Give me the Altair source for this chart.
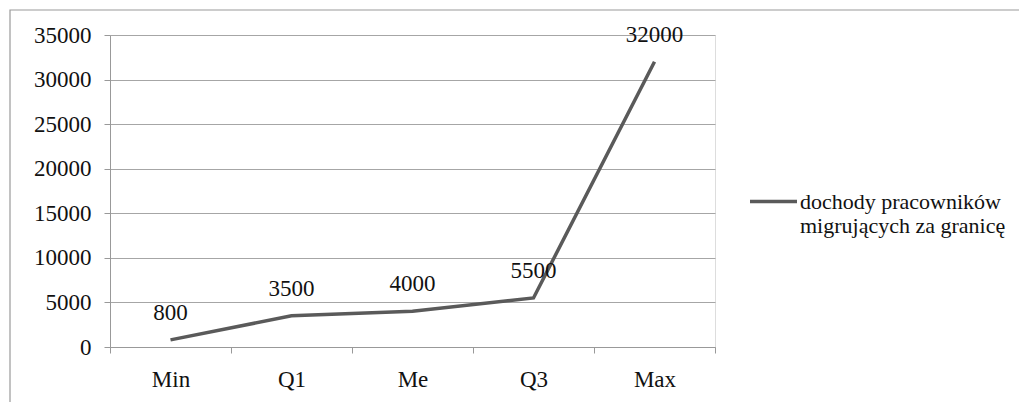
import altair as alt
import pandas as pd

categories = ["Min", "Q1", "Me", "Q3", "Max"]
values = [800, 3500, 4000, 5500, 32000]
series_name = "dochody pracowników|migrujących za granicę"

df = pd.DataFrame({"cat": categories, "val": values, "series": [series_name] * 5})

FONT = "Liberation Serif"
FS = 23

x = alt.X("cat:N", sort=categories, title=None,
          scale=alt.Scale(paddingInner=0, paddingOuter=0),
          axis=alt.Axis(labelAngle=0, labelFontSize=FS, labelFont=FONT, labelColor="#111",
                        labelPadding=15, domainColor="#999", tickColor="#999", tickSize=6,
                        tickBand="extent", grid=False))
y = alt.Y("val:Q", title=None,
          scale=alt.Scale(domain=[0, 35000], nice=False),
          axis=alt.Axis(values=[0, 5000, 10000, 15000, 20000, 25000, 30000, 35000],
                        format="d", labelFontSize=FS, labelFont=FONT, labelColor="#111",
                        labelPadding=13, domainColor="#999", tickColor="#999", tickSize=6,
                        gridColor="#a6a6a6", gridWidth=1.2))

border = alt.Chart(pd.DataFrame({"a": [0]})).mark_rect(
    fill=None, stroke="#9a9a9a", strokeWidth=1.2
).encode(x=alt.value(-100), x2=alt.value(1000), y=alt.value(-25), y2=alt.value(420))

line = alt.Chart(df).mark_line(strokeWidth=3.5).encode(
    x=x, y=y,
    color=alt.Color("series:N", scale=alt.Scale(range=["#5a5a5a"]),
                    legend=alt.Legend(title=None, orient="none", legendX=638, legendY=141,
                                      symbolType="stroke", symbolSize=2209,
                                      symbolStrokeWidth=3.5, labelFont=FONT,
                                      labelFontSize=22, labelColor="#111",
                                      labelExpr="split(datum.label, '|')",
                                      labelLimit=400, labelOffset=1))
)

labels = alt.Chart(df).mark_text(dy=-27, fontSize=FS, font=FONT, color="#111").encode(
    x=alt.X("cat:N", sort=categories), y="val:Q", text=alt.Text("val:Q", format="d")
)

chart = alt.layer(border, line, labels).properties(
    width=605, height=312,
    autosize=alt.AutoSizeParams(type="none"),
    padding={"left": 102, "top": 27, "right": 304, "bottom": 55},
).configure_view(stroke=None).configure(background="white")

chart.save("out.html", embed_options={"renderer": "svg", "actions": False})
